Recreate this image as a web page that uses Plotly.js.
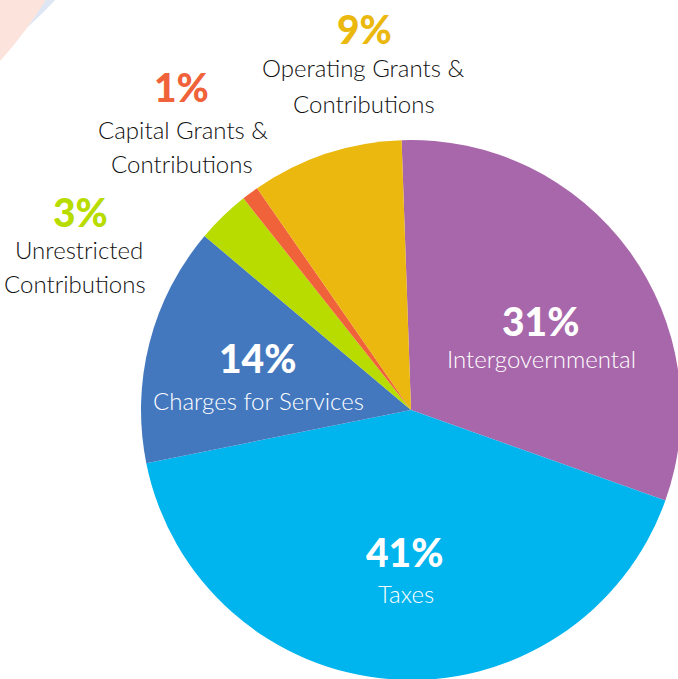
<!DOCTYPE html>
<html>
<head>
<meta charset="utf-8">
<script src="https://cdn.plot.ly/plotly-3.0.1.min.js"></script>
<style>
  html, body { margin: 0; padding: 0; overflow: hidden; background: #ffffff; }
  #chart { width: 690px; height: 690px; }
</style>
</head>
<body>
<div id="chart"></div>
<script>
// ---- data ----
var categories = ['Intergovernmental', 'Taxes', 'Charges for Services',
                  'Unrestricted Contributions', 'Capital Grants & Contributions',
                  'Operating Grants & Contributions'];
var shares = [31.0, 41.4, 14.3, 3.2, 1.0, 9.1];
var pctLabels = ['31%', '41%', '14%', '3%', '1%', '9%'];
var sliceColors = ['#A767AA', '#00B4EE', '#4378BF', '#B8DC00', '#F0623A', '#EBB80F'];

// ---- layout helpers ----
var W = 690, H = 690;
function px(x) { return x / W; }
function py(y) { return 1 - y / H; }

var pctFont = {family: 'Lato, "Open Sans", sans-serif', size: 39, weight: 900};
var txtFont = {family: 'Lato, "Open Sans", sans-serif', size: 24, weight: 300};

// label placement: [pixel x, pixel y of percent], lines, inside?
var placement = [
  {pct: [540.5, 321], lines: [['Intergovernmental', 541, 358]], inside: true},
  {pct: [404.5, 551.5], lines: [['Taxes', 405.5, 593]], inside: true},
  {pct: [257.5, 358], lines: [['Charges for Services', 258, 400]], inside: true},
  {pct: [80.5, 211.5], lines: [['Unrestricted', 79, 249], ['Contributions', 75, 284]], inside: false},
  {pct: [181.5, 87], lines: [['Capital Grants &', 182.5, 129], ['Contributions', 182, 163]], inside: false},
  {pct: [364.5, 29], lines: [['Operating Grants &', 362.5, 68], ['Contributions', 364, 104]], inside: false}
];

var annotations = [];
placement.forEach(function (p, i) {
  var pf = Object.assign({}, pctFont, {color: p.inside ? '#ffffff' : sliceColors[i]});
  annotations.push({
    xref: 'paper', yref: 'paper', x: px(p.pct[0]), y: py(p.pct[1]),
    xanchor: 'center', yanchor: 'middle', showarrow: false,
    text: pctLabels[i], font: pf
  });
  p.lines.forEach(function (ln) {
    annotations.push({
      xref: 'paper', yref: 'paper', x: px(ln[1]), y: py(ln[2]),
      xanchor: 'center', yanchor: 'middle', showarrow: false,
      text: ln[0], font: Object.assign({}, txtFont, {color: p.inside ? '#ffffff' : '#111111'})
    });
  });
});

var trace = {
  type: 'pie',
  labels: categories,
  values: shares,
  sort: false,
  direction: 'clockwise',
  rotation: -2,
  marker: {colors: sliceColors, line: {width: 0}},
  textinfo: 'none',
  hoverinfo: 'none',
  showlegend: false,
  domain: {x: [px(141), px(681)], y: [py(680), py(140)]}
};

// faint decorative arcs in the top-left corner
var shapes = [
  {type: 'circle', xref: 'paper', yref: 'paper', layer: 'below',
   x0: px(-640), x1: px(160), y0: py(-670), y1: py(130),
   fillcolor: '#DDE6F2', line: {width: 0}},
  {type: 'circle', xref: 'paper', yref: 'paper', layer: 'below',
   x0: px(-696), x1: px(104), y0: py(-608), y1: py(192),
   fillcolor: '#FCE4DD', line: {width: 0}}
];

var layout = {
  width: W, height: H,
  margin: {l: 0, r: 0, t: 0, b: 0},
  paper_bgcolor: '#ffffff',
  plot_bgcolor: '#ffffff',
  annotations: annotations,
  shapes: shapes
};

Plotly.newPlot('chart', [trace], layout, {displayModeBar: false, staticPlot: true});
</script>
</body>
</html>
